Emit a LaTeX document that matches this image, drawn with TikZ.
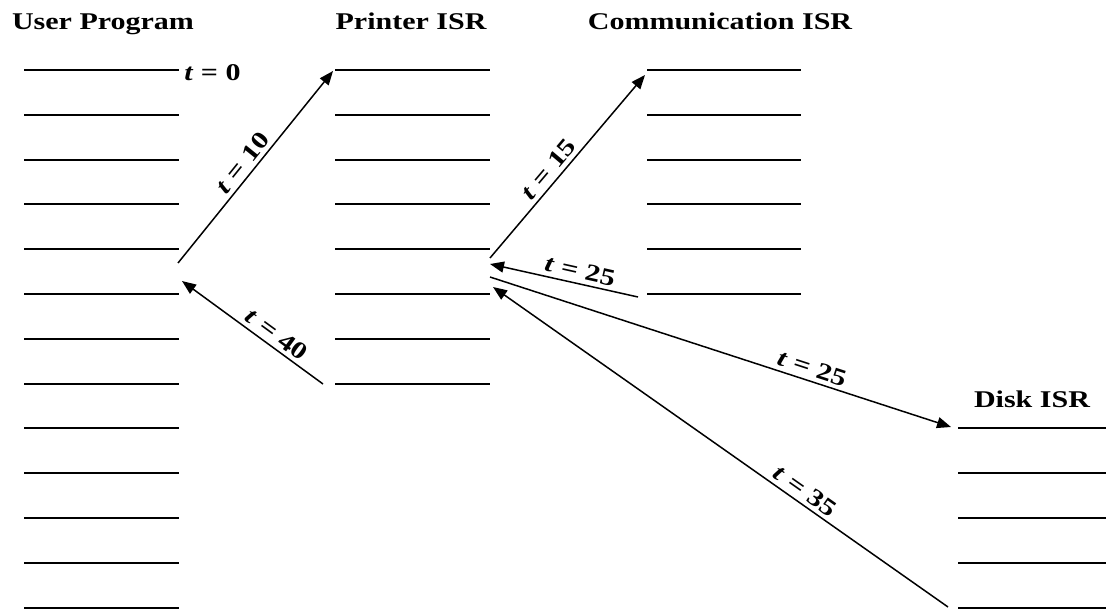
\documentclass[tikz,border=0pt]{standalone}
\usepackage{fontspec}
\setmainfont{Liberation Serif}
\newfontfamily\isrfont[FakeStretch=1.25]{Liberation Serif}
\usetikzlibrary{arrows.meta}

\begin{document}
\begin{tikzpicture}[
    x=0.5pt, y=-0.5pt,
    every node/.style={font=\isrfont\bfseries},
    title/.style={font=\isrfont\bfseries\fontsize{12}{14}\selectfont, anchor=base, inner sep=0pt},
    slot/.style={line width=1pt},
    tarrow/.style={-{Triangle[length=7pt,width=5.5pt]}, line width=0.75pt},
    tlabel/.style={sloped, above, inner sep=2pt, font=\isrfont\bfseries\fontsize{12}{14}\selectfont}
]
\useasboundingbox (0,0) rectangle (1106,609);

% --- Titles ---
\node[title] (user)  at (103,30)  {User Program};
\node[title] (prn)   at (411,30)  {Printer ISR};
\node[title] (comm)  at (720,30)  {Communication ISR};
\node[title] (disk)  at (1032,407) {Disk ISR};

% --- Instruction slots ---
\foreach \k in {0,...,12}
    \draw[slot] (24,{70+44.8*\k}) -- ++(155,0);
\foreach \k in {0,...,7}
    \draw[slot] (335,{70+44.8*\k}) -- ++(155,0);
\foreach \k in {0,...,5}
    \draw[slot] (647,{70+44.8*\k}) -- ++(154,0);
\foreach \k in {8,...,12}
    \draw[slot] (958,{70+44.8*\k}) -- ++(148,0);

\node[font=\isrfont\bfseries\fontsize{12}{14}\selectfont, anchor=base west, inner sep=0pt]
     (t0) at (184,81) {\textit{t} = 0};

% --- Interrupt points ---
\coordinate (uout) at (178,263);
\coordinate (uin)  at (182,281);
\coordinate (pin)  at (333,71);
\coordinate (pout) at (323,384);
\coordinate (pup)  at (490,258);
\coordinate (pret) at (490,264);
\coordinate (pdn)  at (490,277);
\coordinate (pend) at (493,287);
\coordinate (cin)  at (645,75);
\coordinate (cout) at (638,297);
\coordinate (din)  at (951,427);
\coordinate (dout) at (948,607);

% --- Transfers of control ---
\draw[tarrow] (uout) -- node[tlabel, pos=0.48] {\textit{t} = 10} (pin);
\draw[tarrow] (pout) -- node[tlabel, pos=0.38] {\textit{t} = 40} (uin);
\draw[tarrow] (pup)  -- node[tlabel, pos=0.44] {\textit{t} = 15} (cin);
\draw[tarrow] (cout) -- node[tlabel, pos=0.41] {\textit{t} = 25} (pret);
\draw[tarrow] (pdn)  -- node[tlabel, pos=0.69] {\textit{t} = 25} (din);
\draw[tarrow] (dout) -- node[tlabel, pos=0.33] {\textit{t} = 35} (pend);

\end{tikzpicture}
\end{document}
